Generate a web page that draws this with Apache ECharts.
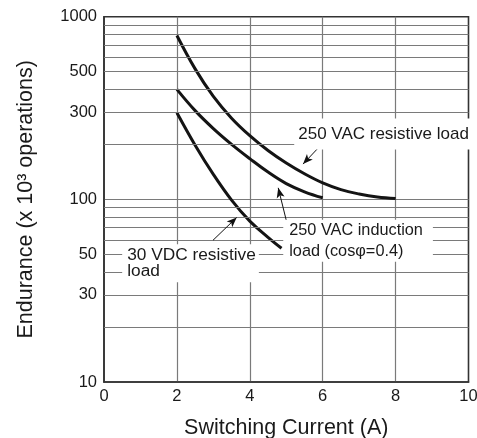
<!DOCTYPE html>
<html>
<head>
<meta charset="utf-8">
<script src="https://cdn.jsdelivr.net/npm/echarts@6/dist/echarts.min.js"></script>
<style>
html,body{margin:0;padding:0;background:#fff;}
#c{width:477px;height:438px;}
</style>
</head>
<body>
<div id="c"></div>
<script>
// ---- data ----
const xTickLabels = [0, 2, 4, 6, 8, 10];
const yExtraTickLabels = [30, 50, 300, 500];
const yMinorGrid = [20, 30, 40, 50, 60, 70, 80, 90, 200, 300, 400, 500, 600, 700, 800, 900];

const vacResistiveX = [2, 2.5, 3, 3.5, 4, 4.5, 5, 5.5, 6, 6.5, 7, 7.5, 8];
const vacResistiveY = [789, 518, 366, 278, 223, 185, 158, 138, 123, 113, 107, 103, 101];

const vacInductionX = [2, 2.5, 3, 3.5, 4, 4.5, 5, 5.5, 6];
const vacInductionY = [400, 306, 244, 200, 167, 141, 122, 110, 102];

const vdcResistiveX = [2, 2.5, 3, 3.5, 4, 4.5, 4.87];
const vdcResistiveY = [298, 198, 137, 99, 76, 62, 54];

const labelTexts = {
  vacRes: '250 VAC resistive load',
  vacInd: '250 VAC induction\nload (cos\u03c6=0.4)',
  vdcRes: '30 VDC resistive\nload'
};

// ---- build ----
const FONT = '"Liberation Sans", Arial, Helvetica, sans-serif';
const TXT = '#1a1a1a';
const GRID = '#7a7a7a';
const pairs = (xs, ys) => xs.map((x, i) => [x, ys[i]]);

const curveStyle = { color: '#141414', width: 3, cap: 'butt' };

const chart = echarts.init(document.getElementById('c'), null, { renderer: 'canvas' });

const option = {
  animation: false,
  backgroundColor: '#fff',
  grid: {
    left: 104, right: 8.5, top: 16.7, bottom: 56,
    containLabel: false, outerBoundsMode: 'none',
    show: true, borderColor: '#333', borderWidth: 1.6, backgroundColor: 'transparent'
  },
  xAxis: {
    type: 'value', min: 0, max: 10, interval: 2,
    axisLine: { show: true, lineStyle: { color: '#333', width: 1.6 } },
    axisTick: { show: false },
    axisLabel: {
      color: TXT, fontSize: 16.5, fontFamily: FONT, margin: 6,
      formatter: v => (xTickLabels.includes(v) ? String(v) : '')
    },
    splitLine: { show: true, showMinLine: false, showMaxLine: false, lineStyle: { color: GRID, width: 1.2 } },
    name: 'Switching Current (A)', nameLocation: 'middle', nameGap: 35,
    nameTextStyle: { color: TXT, fontSize: 21.5, fontFamily: FONT }
  },
  yAxis: {
    type: 'log', logBase: 10, min: 10, max: 1000,
    axisLine: { show: true, lineStyle: { color: '#333', width: 1.6 } },
    axisTick: { show: false },
    axisLabel: { color: TXT, fontSize: 16.5, fontFamily: FONT, margin: 7, formatter: v => String(v) },
    splitLine: { show: true, showMinLine: false, showMaxLine: false, lineStyle: { color: GRID, width: 1.2 } },
    name: 'Endurance (x 10\u00b3 operations)', nameLocation: 'middle', nameRotate: 90, nameGap: 67,
    nameTextStyle: { color: TXT, fontSize: 21.5, fontFamily: FONT }
  },
  series: [
    {
      name: 'grid-minor', type: 'line', data: [], z: 1, silent: true,
      markLine: {
        silent: true, animation: false, symbol: ['none', 'none'],
        lineStyle: { color: GRID, width: 1.2, type: 'solid' },
        label: { show: false },
        emphasis: { disabled: true },
        data: yMinorGrid.map(v => ({
          yAxis: v,
          label: yExtraTickLabels.includes(v)
            ? { show: true, position: 'start', formatter: String(v), distance: 7,
                color: TXT, fontSize: 16.5, fontFamily: FONT }
            : { show: false }
        }))
      }
    },
    {
      name: '250 VAC resistive load', type: 'line', smooth: 0.4, symbol: 'none', z: 3,
      lineStyle: curveStyle, data: pairs(vacResistiveX, vacResistiveY)
    },
    {
      name: '250 VAC induction load', type: 'line', smooth: 0.4, symbol: 'none', z: 3,
      lineStyle: curveStyle, data: pairs(vacInductionX, vacInductionY)
    },
    {
      name: '30 VDC resistive load', type: 'line', smooth: 0.4, symbol: 'none', z: 3,
      lineStyle: curveStyle, data: pairs(vdcResistiveX, vdcResistiveY)
    },
    {
      name: 'annotations', type: 'line', data: [], z: 5, silent: true,
      markLine: {
        silent: true, animation: false, symbol: ['none', 'arrow'], symbolSize: [6, 10],
        lineStyle: { color: '#111', width: 1, type: 'solid' },
        label: { show: false },
        emphasis: { disabled: true },
        data: [
          [{ coord: [6.08, 211] }, { coord: [5.46, 156] }],
          [{ coord: [5.01, 75.4] }, { coord: [4.78, 115.6] }],
          [{ coord: [2.99, 59.7] }, { coord: [3.64, 79.6] }]
        ]
      },
      markPoint: {
        silent: true, animation: false, symbol: 'circle', symbolSize: 1,
        itemStyle: { color: 'rgba(0,0,0,0)' },
        emphasis: { disabled: true },
        label: {
          show: true, position: 'right', distance: 0, color: TXT, fontFamily: FONT,
          backgroundColor: '#fff', align: 'left'
        },
        data: [
          { coord: [5.205, 227.6], value: 0,
            label: { formatter: labelTexts.vacRes, fontSize: 17, lineHeight: 17, padding: [7, 3, 7, 4] } },
          { coord: [4.904, 59.4], value: 0,
            label: { formatter: labelTexts.vacInd, fontSize: 16.3, lineHeight: 21, padding: [0, 10, 0, 6] } },
          { coord: [0.485, 44.7], value: 0,
            label: { formatter: labelTexts.vdcRes, fontSize: 17.3, lineHeight: 16, padding: [3, 3, 3, 5] } }
        ]
      }
    }
  ]
};

chart.setOption(option);
</script>
</body>
</html>
